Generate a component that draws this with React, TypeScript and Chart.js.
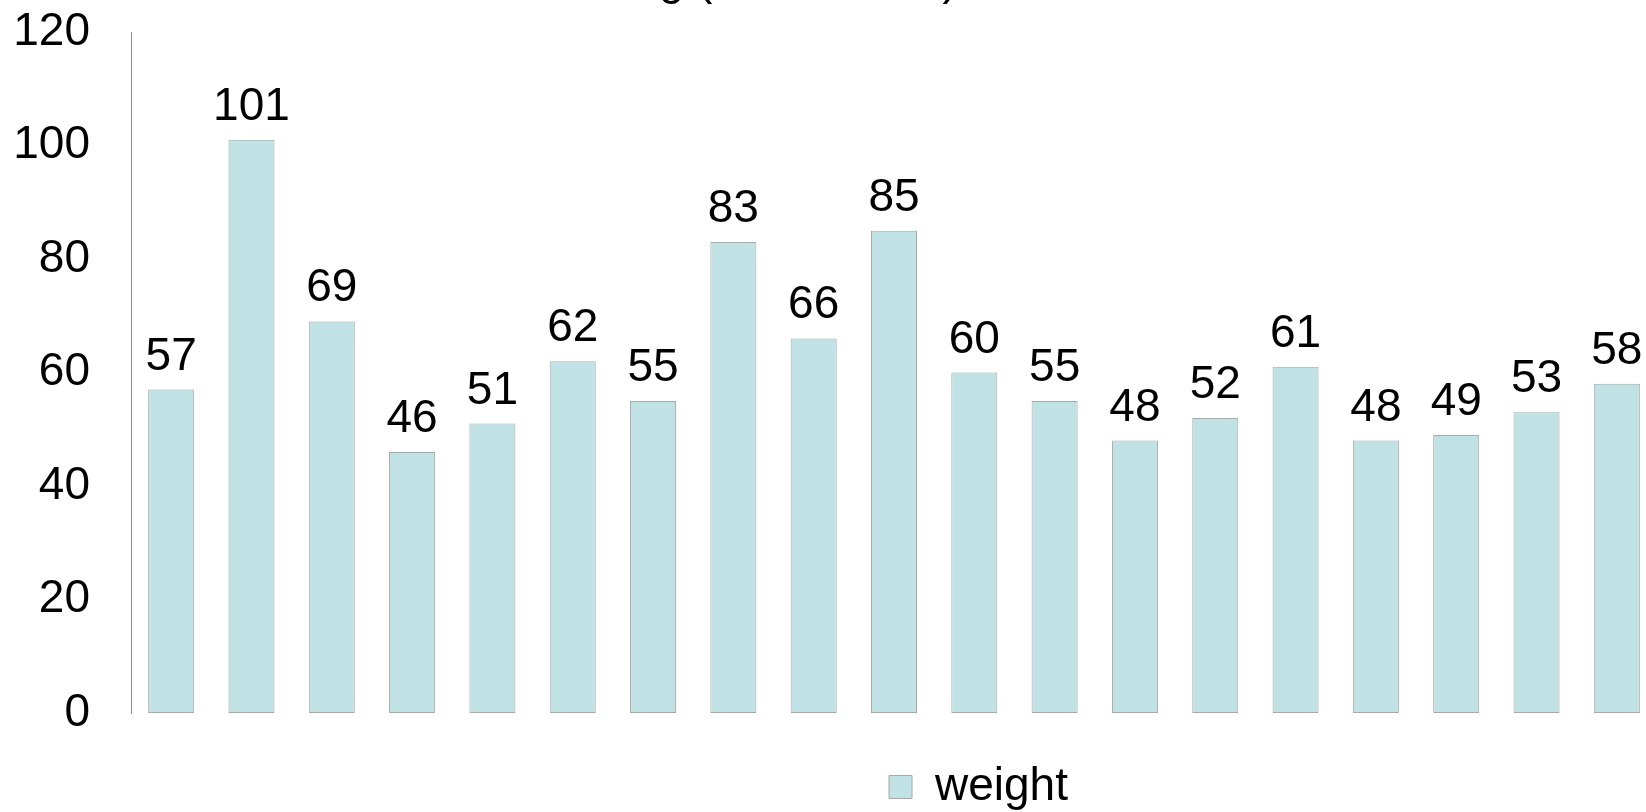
import { useEffect, useRef } from "react";
import { Chart, registerables } from "chart.js";

Chart.register(...registerables);

// Chart data
const categories = ["1", "2", "3", "4", "5", "6", "7", "8", "9", "10", "11", "12", "13", "14", "15", "16", "17", "18", "19"];
const weights = [57, 101, 69, 46, 51, 62, 55, 83, 66, 85, 60, 55, 48, 52, 61, 48, 49, 53, 58];
const yTicks = [0, 20, 40, 60, 80, 100, 120];
const seriesLabel = "weight";
const titleText = "Scale Reading (All Athletes)";

const FONT_FAMILY = '"Liberation Sans", Arial, Helvetica, sans-serif';
const FONT_SIZE = 46;
const BAR_FILL = "#C0E2E4";
const BAR_EDGE = "#A8A8A8";
const AXIS_COLOR = "#8C8C8C";

// Title sits above the canvas top edge, so only its lowest strokes show.
const titlePlugin = {
  id: "cutTitle",
  afterDraw(chart: any) {
    const { ctx } = chart;
    ctx.save();
    ctx.font = `${FONT_SIZE}px ${FONT_FAMILY}`;
    ctx.fillStyle = "#000";
    ctx.textAlign = "left";
    ctx.textBaseline = "alphabetic";
    const prefix = titleText.slice(0, titleText.indexOf("("));
    const x = 697 - ctx.measureText(prefix).width;
    ctx.fillText(titleText, x, -6);
    ctx.restore();
  },
};

// Value labels above each bar
const valueLabelPlugin = {
  id: "valueLabels",
  afterDatasetsDraw(chart: any) {
    const { ctx } = chart;
    ctx.save();
    ctx.font = `${FONT_SIZE}px ${FONT_FAMILY}`;
    ctx.fillStyle = "#000";
    ctx.textAlign = "center";
    ctx.textBaseline = "alphabetic";
    chart.data.datasets.forEach((ds: any, di: number) => {
      const meta = chart.getDatasetMeta(di);
      meta.data.forEach((bar: any, i: number) => {
        ctx.fillText(String(ds.data[i]), bar.x, bar.y - 20);
      });
    });
    ctx.restore();
  },
};

// Moves the legend row to the right of the plot centre
const legendShiftPlugin = {
  id: "legendShift",
  afterLayout(chart: any) {
    const lg = chart.legend;
    if (lg) {
      lg.left += 150;
      lg.right += 150;
    }
  },
};

export default function App() {
  const canvasRef = useRef<HTMLCanvasElement | null>(null);

  useEffect(() => {
    const canvas = canvasRef.current;
    if (!canvas) return;
    const chart = new Chart(canvas, {
      type: "bar",
      data: {
        labels: categories,
        datasets: [
          {
            label: seriesLabel,
            data: weights,
            backgroundColor: BAR_FILL,
            borderColor: BAR_EDGE,
            borderWidth: 1,
            borderSkipped: false,
            categoryPercentage: 1,
            barPercentage: 0.573,
          },
        ],
      },
      options: {
        responsive: false,
        animation: false,
        devicePixelRatio: 1,
        layout: { padding: { top: 32, left: 0, right: 0, bottom: 0 } },
        plugins: {
          title: { display: false },
          tooltip: { enabled: false },
          legend: {
            display: true,
            position: "bottom",
            align: "center",
            labels: {
              boxWidth: 23,
              boxHeight: 23,
              padding: 2,
              color: "#000",
              font: { family: FONT_FAMILY, size: FONT_SIZE },
            },
          },
        },
        scales: {
          x: {
            type: "category",
            grid: { display: false, drawTicks: false },
            border: { display: false },
            ticks: { display: false },
            afterFit: (scale: any) => {
              scale.height = 49;
              scale.paddingLeft = 0;
              scale.paddingRight = 0;
            },
          },
          y: {
            min: 0,
            max: 120,
            grid: { display: false, drawTicks: false },
            border: { display: true, color: AXIS_COLOR, width: 1 },
            ticks: {
              padding: 41,
              color: "#000",
              font: { family: FONT_FAMILY, size: FONT_SIZE },
            },
            afterBuildTicks: (scale: any) => {
              scale.ticks = yTicks.map((v) => ({ value: v }));
            },
            afterFit: (scale: any) => {
              scale.width = 131;
              scale.paddingTop = 0;
              scale.paddingBottom = 0;
            },
          },
        },
      },
      plugins: [titlePlugin, valueLabelPlugin, legendShiftPlugin],
    });
    return () => chart.destroy();
  }, []);

  return (
    <div
      style={{
        position: "fixed",
        left: 0,
        top: 0,
        width: 1646,
        height: 812,
        overflow: "hidden",
        background: "#fff",
      }}
    >
      <canvas
        ref={canvasRef}
        width={1657}
        height={820}
        style={{ position: "absolute", left: 0, top: 0, width: 1657, height: 820 }}
      />
    </div>
  );
}
